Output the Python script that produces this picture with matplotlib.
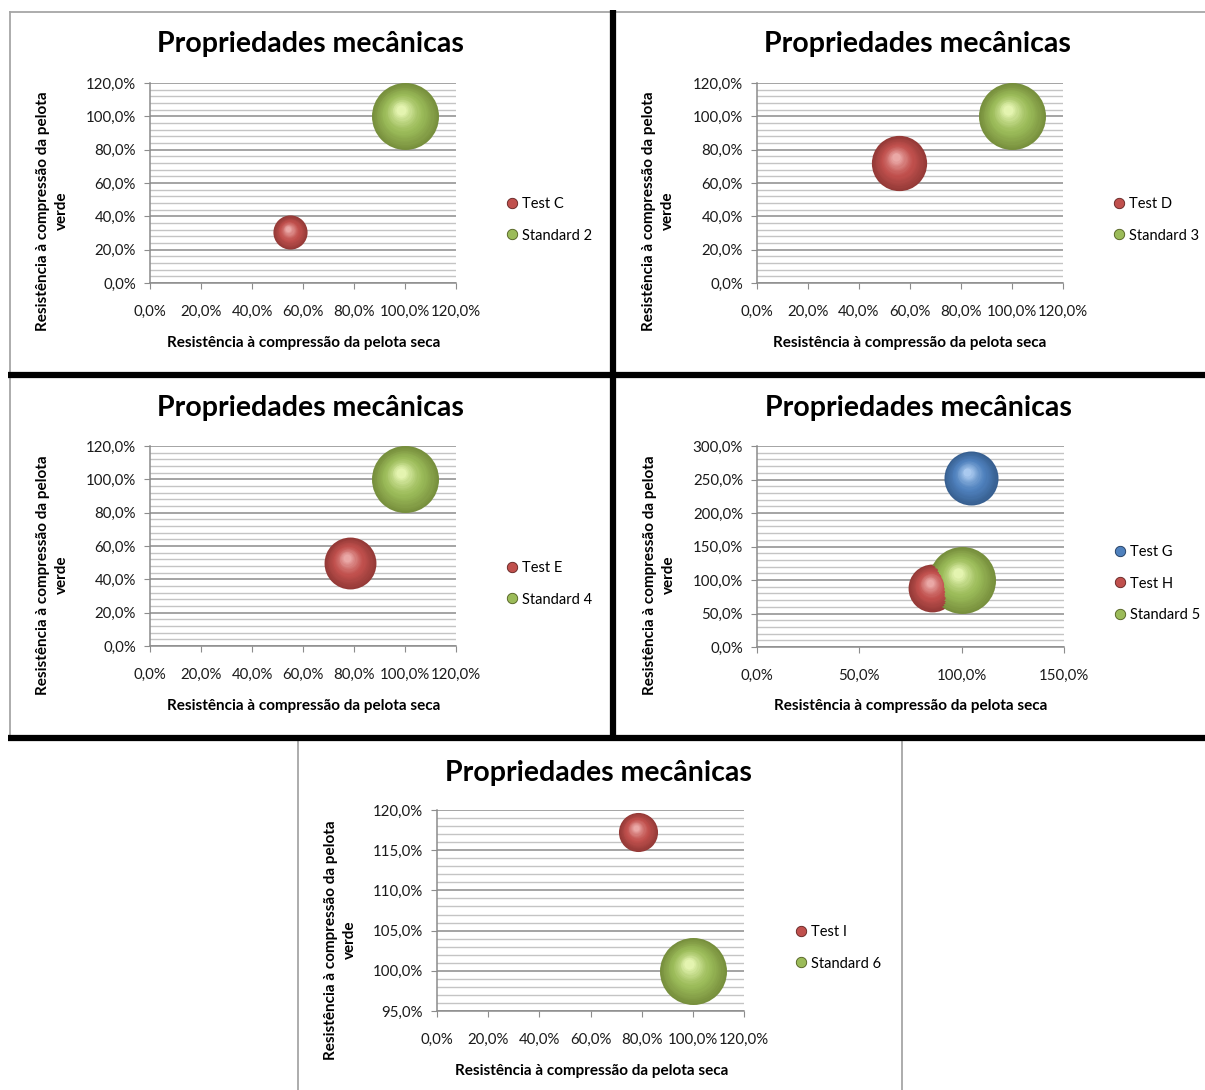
import matplotlib
matplotlib.use("Agg")
import matplotlib.pyplot as plt
import matplotlib.transforms as mtransforms
from matplotlib.lines import Line2D
from matplotlib.ticker import MultipleLocator, FuncFormatter
import numpy as np

plt.rcParams['font.family'] = ['Lato', 'DejaVu Sans']

W, H = 1205, 1090
DPI = 100

title = "Propriedades mecânicas"
xlabel = "Resistência à compressão da pelota seca"
ylabel = "Resistência à compressão da pelota\nverde"

# data (percent); size = relative bubble area
c_names = ["Test C", "Standard 2"]
c_x = [55.0, 100.0]
c_y = [30.3, 100.0]
c_size = [0.26, 1.0]

d_names = ["Test D", "Standard 3"]
d_x = [55.7, 100.0]
d_y = [72.0, 100.0]
d_size = [0.68, 1.0]

e_names = ["Test E", "Standard 4"]
e_x = [78.4, 100.0]
e_y = [49.8, 100.0]
e_size = [0.60, 1.0]

gh_names = ["Test G", "Test H", "Standard 5"]
gh_x = [104.4, 85.7, 100.0]
gh_y = [252.8, 88.8, 100.0]
gh_size = [0.65, 0.51, 1.0]

i_names = ["Test I", "Standard 6"]
i_x = [78.6, 100.0]
i_y = [117.3, 100.0]
i_size = [0.34, 1.0]

# colours: (dark, base, light)
RED = ("#5e1f1d", "#c0504d", "#eaa8a6")
GREEN = ("#4c5a1b", "#9bbb59", "#e4f4b0")
BLUE = ("#1a3559", "#4f81bd", "#a9c9ef")

S_MAX = (67 * 0.72) ** 2  # biggest bubble ~67 px wide


def mix(c1, c2, t):
    a = np.array(matplotlib.colors.to_rgb(c1))
    b = np.array(matplotlib.colors.to_rgb(c2))
    return tuple(a + (b - a) * t)


def bubble(ax, fig, x, y, size, cols):
    dark, base, light = cols
    s = size * S_MAX
    R = np.sqrt(s) / 2  # radius in points
    ax.scatter([x], [y], s=s, color=mix(dark, base, 0.55), zorder=3, clip_on=False, linewidths=0)
    n = 18
    for k in range(n):
        t = k / (n - 1)
        r = R * (0.95 - 0.80 * t)
        dx = -0.12 * R * t
        dy = 0.20 * R * t
        tr = mtransforms.offset_copy(ax.transData, fig=fig, x=dx, y=dy, units='points')
        if t < 0.45:
            col = mix(mix(dark, base, 0.6), base, t / 0.45)
        else:
            col = mix(base, light, ((t - 0.45) / 0.55) ** 1.3)
        ax.scatter([x], [y], s=(2 * r) ** 2, color=col, zorder=3 + k * 0.01,
                   transform=tr, clip_on=False, linewidths=0)


def px(x, y):
    return x / W, 1 - y / H


def pct(v, pos):
    return f"{v:.1f}%".replace(".", ",")


def panel(fig, box, xs, ys, sizes, names, colors, xlim, xstep, ylim, ystep,
          title_xy, leg_xy, ylab_xy, xlab_xy):
    l, t, r, b = box
    ax = fig.add_axes([l / W, 1 - b / H, (r - l) / W, (b - t) / H])
    ax.set_xlim(*xlim)
    ax.set_ylim(*ylim)
    ax.xaxis.set_major_locator(MultipleLocator(xstep))
    ax.yaxis.set_major_locator(MultipleLocator(ystep))
    ax.yaxis.set_minor_locator(MultipleLocator(ystep / 5))
    ax.xaxis.set_major_formatter(FuncFormatter(pct))
    ax.yaxis.set_major_formatter(FuncFormatter(pct))
    ax.grid(axis='y', which='major', color='#8c8c8c', lw=1.1, zorder=0)
    ax.grid(axis='y', which='minor', color='#c4c4c4', lw=1.0, zorder=0)
    ax.set_axisbelow(True)
    for sp in ['top', 'right']:
        ax.spines[sp].set_visible(False)
    for sp in ['left', 'bottom']:
        ax.spines[sp].set_color('#8c8c8c')
        ax.spines[sp].set_linewidth(1.1)
    ax.tick_params(axis='both', which='major', direction='out', length=4,
                   color='#8c8c8c', labelsize=10.8, labelcolor='#1a1a1a')
    ax.tick_params(axis='y', which='minor', length=0)
    ax.tick_params(axis='x', pad=12)
    ax.tick_params(axis='y', pad=6)

    for xv, yv, sv, c in zip(xs, ys, sizes, colors):
        bubble(ax, fig, xv, yv, sv, c)

    handles = [Line2D([], [], ls='none', marker='o', markersize=7.5,
                      markerfacecolor=c[1], markeredgecolor=c[0], markeredgewidth=0.6)
               for c in colors]
    fig.legend(handles, names, loc='upper left', bbox_to_anchor=px(*leg_xy),
               frameon=False, fontsize=10.5, handletextpad=0.15, labelspacing=1.2,
               handlelength=1.0, borderaxespad=0, borderpad=0)

    fig.text(*px(*title_xy), title, ha='center', va='center', fontsize=20.5,
             fontweight='bold', color='#000000')
    fig.text(*px(*ylab_xy), ylabel, ha='center', va='center', rotation=90,
             fontsize=11.0, fontweight='bold', ma='center', linespacing=1.45)
    fig.text(*px(*xlab_xy), xlabel, ha='center', va='center', fontsize=11.0,
             fontweight='bold')
    return ax


fig = plt.figure(figsize=(W / DPI, H / DPI), dpi=DPI)
fig.patch.set_facecolor('white')

panel(fig, (150, 83, 456, 283), c_x, c_y, c_size, c_names, [RED, GREEN],
      (0, 120), 20, (0, 120), 20, (310, 44), (505, 197), (52, 211), (304, 343))
panel(fig, (757, 83, 1063, 283), d_x, d_y, d_size, d_names, [RED, GREEN],
      (0, 120), 20, (0, 120), 20, (917, 44), (1112, 197), (658, 211), (910, 343))
panel(fig, (150, 446, 456, 646), e_x, e_y, e_size, e_names, [RED, GREEN],
      (0, 120), 20, (0, 120), 20, (310, 408), (505, 561), (52, 575), (304, 706))
panel(fig, (757, 446, 1064, 647), gh_x, gh_y, gh_size, gh_names, [BLUE, RED, GREEN],
      (0, 150), 50, (0, 300), 50, (918, 408), (1113, 545), (659, 575), (911, 706))
panel(fig, (437, 810, 744, 1011), i_x, i_y, i_size, i_names, [RED, GREEN],
      (0, 120), 20, (95, 120), 5, (598, 773), (794, 925), (340, 940), (592, 1071))

# panel frames
def fline(x0, y0, x1, y1, **kw):
    a = px(x0, y0)
    b = px(x1, y1)
    fig.add_artist(Line2D([a[0], b[0]], [a[1], b[1]], transform=fig.transFigure, **kw))

gray = dict(color='#a6a6a6', lw=1.3)
fline(10, 11.5, 1205, 11.5, **gray)
fline(10, 11.5, 10, 737, **gray)
fline(298, 740, 298, 1090, **gray)
fline(902, 740, 902, 1090, **gray)
black = dict(color='#000000', lw=4.5, solid_capstyle='butt')
fline(613, 10, 613, 737, **black)
fline(8, 375, 1205, 375, **black)
fline(8, 737.5, 1205, 737.5, **black)

fig.savefig("out.png", dpi=DPI, facecolor='white')
